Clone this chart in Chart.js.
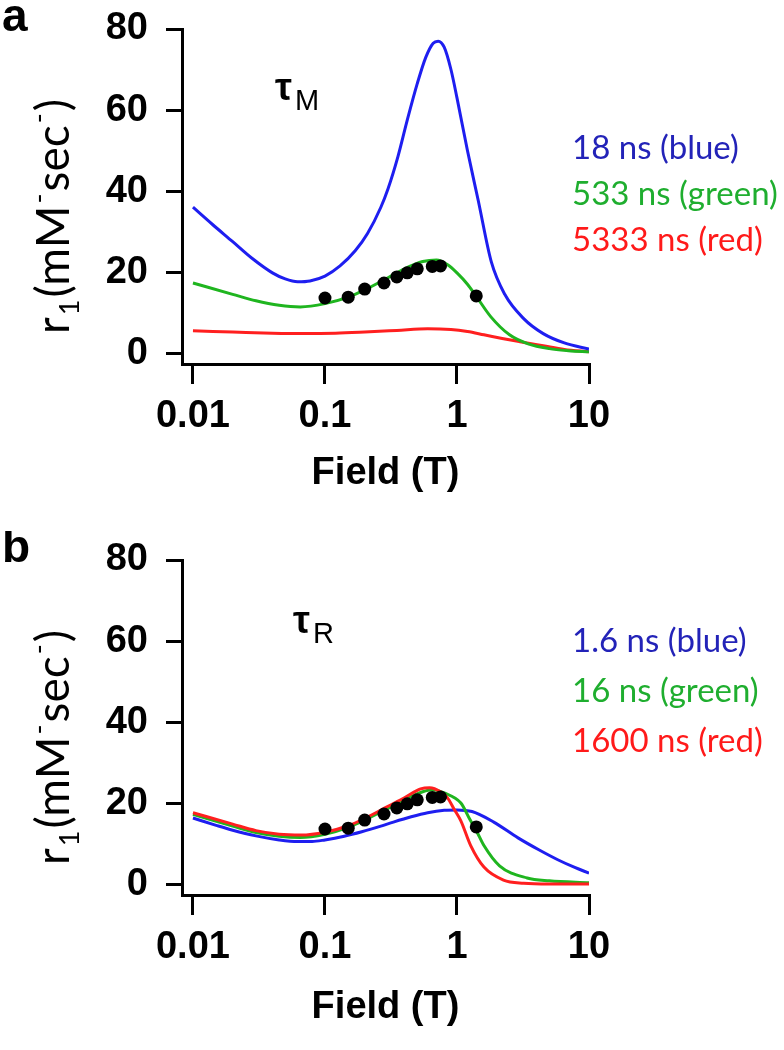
<!DOCTYPE html>
<html>
<head>
<meta charset="utf-8">
<script src="https://cdn.jsdelivr.net/npm/chart.js@4.4.1/dist/chart.umd.min.js"></script>
<style>
  body { margin: 0; background: #fff; width: 784px; height: 1050px; overflow: hidden; position: relative; }
  .panel { position: absolute; left: 0; width: 784px; }
  #panelA { top: 0; height: 525px; }
  #panelB { top: 531px; height: 519px; }
</style>
</head>
<body>
<div class="panel" id="panelA"><canvas id="chartA"></canvas></div>
<div class="panel" id="panelB"><canvas id="chartB"></canvas></div>
<script>
// axis ticks
const xTicks = [0.01, 0.1, 1, 10];
const yTicks = [0, 20, 40, 60, 80];

// measured r1 (black dots), same in both panels
const dotField = [0.1, 0.15, 0.2, 0.28, 0.35, 0.42, 0.5, 0.65, 0.75, 1.4];
const dotR1 = [13.6, 13.8, 15.8, 17.3, 18.8, 19.8, 20.8, 21.4, 21.5, 14.1];

// panel a : tau M
const aBlueField = [0.01, 0.014, 0.02, 0.028, 0.04, 0.05, 0.062, 0.077, 0.1, 0.13, 0.17, 0.21, 0.265, 0.3, 0.357, 0.42, 0.5, 0.58, 0.66, 0.72, 0.8, 0.9, 1.0, 1.2, 1.45, 1.82, 2.3, 3.2, 4.5, 6.5, 10];
const aBlueR1 = [36, 31.8, 27.5, 23.4, 19.8, 18.3, 17.6, 17.8, 19.0, 21.5, 25.3, 29.5, 36, 40.5, 48.5, 57.5, 66.5, 73, 76.5, 77, 75.5, 70, 63, 50, 37.6, 22.5, 14.5, 8.5, 4.8, 2.5, 1];
const aGreenField = [0.01, 0.02, 0.03, 0.045, 0.065, 0.1, 0.15, 0.2, 0.3, 0.4, 0.55, 0.7, 0.85, 1.0, 1.2, 1.4, 1.8, 2.5, 3.5, 5, 7, 10];
const aGreenR1 = [17.3, 14.5, 12.9, 11.8, 11.4, 12.2, 13.8, 15.6, 18.6, 20.8, 22.6, 23, 21.8, 19.8, 17, 14, 9, 4.5, 2.2, 1.1, 0.6, 0.3];
const aRedField = [0.01, 0.02, 0.04, 0.07, 0.12, 0.2, 0.35, 0.6, 0.9, 1.2, 1.6, 2.2, 3, 4.5, 6.5, 10];
const aRedR1 = [5.5, 5.2, 4.9, 4.8, 4.9, 5.2, 5.6, 6, 5.8, 5.3, 4.5, 3.6, 2.8, 1.8, 0.9, 0.3];
const aLegend = ['18 ns (blue)', '533 ns (green)', '5333 ns (red)'];

// panel b : tau R
const bBlueField = [0.01, 0.015, 0.02, 0.03, 0.045, 0.062, 0.08, 0.1, 0.14, 0.19, 0.265, 0.33, 0.45, 0.6, 0.8, 1.0, 1.3, 1.9, 2.9, 4.2, 5.8, 7.8, 10];
const bBlueR1 = [16.3, 14.5, 13.3, 11.9, 10.9, 10.5, 10.5, 10.9, 11.8, 12.9, 14.3, 15.3, 16.6, 17.6, 18.2, 18.3, 17.9, 15.3, 11.4, 8.4, 6, 4.1, 2.7];
const bGreenField = [0.01, 0.02, 0.03, 0.045, 0.065, 0.1, 0.15, 0.2, 0.3, 0.4, 0.55, 0.65, 0.8, 1.07, 1.25, 1.43, 1.6, 2.1, 3.4, 5, 10];
const bGreenR1 = [17.2, 14.3, 12.7, 11.8, 11.5, 12.3, 14, 15.8, 18.7, 20.8, 22.8, 23.3, 22.5, 20, 16, 12.6, 9.5, 4.5, 1.5, 0.8, 0.3];
const bRedField = [0.01, 0.02, 0.03, 0.045, 0.066, 0.1, 0.15, 0.2, 0.3, 0.4, 0.53, 0.62, 0.75, 0.85, 0.95, 1.07, 1.27, 1.6, 2.25, 3.2, 5, 10];
const bRedR1 = [17.6, 14.8, 13.2, 12.3, 12.1, 12.8, 14.4, 16.2, 19.2, 21.3, 23.5, 23.8, 22.8, 21.2, 18.5, 15.6, 9.5, 4.2, 1, 0.2, 0, 0];
const bLegend = ['1.6 ns (blue)', '16 ns (green)', '1600 ns (red)'];

const lineColors = ['#1e1ef0', '#1fb51f', '#ff1f1f'];
const textColors = ['#2323b8', '#1fae2f', '#ff1a1a'];

const pts = (xs, ys) => xs.map((x, i) => ({ x: x, y: ys[i] }));

const overlay = {
  id: 'overlay',
  afterDraw(chart, args, o) {
    const ctx = chart.ctx;
    ctx.save();
    ctx.textAlign = 'left';
    ctx.textBaseline = 'alphabetic';
    ctx.fillStyle = '#000';
    // panel letter
    ctx.font = 'bold 46px "Liberation Sans", Arial, sans-serif';
    ctx.fillText(o.letter, 2, o.letterY);
    // tau label
    ctx.font = 'bold 38px "Liberation Sans", Arial, sans-serif';
    ctx.fillText('τ', o.tauX, o.tauY);
    const tw = ctx.measureText('τ').width;
    ctx.font = '29px "Liberation Sans", Arial, sans-serif';
    ctx.fillText(o.tauSub, o.tauX + tw + 3, o.tauY + 10);
    // legend text
    ctx.font = '33px Lato, "Open Sans", sans-serif';
    o.legend.forEach((t, i) => {
      ctx.fillStyle = textColors[i];
      ctx.fillText(t, 572, o.legendY[i]);
    });
    // y axis title, rotated
    ctx.fillStyle = '#000';
    ctx.translate(69, o.titleBottom);
    ctx.rotate(-Math.PI / 2);
    const parts = [
      ['r', 46, 0], ['1', 27, 10], ['(mM', 46, 0], ['-', 27, -21],
      ['sec', 46, 0], ['-', 27, -21], [')', 46, 0]
    ];
    let px = 0;
    parts.forEach(p => {
      ctx.font = p[1] + 'px Lato, "Open Sans", sans-serif';
      ctx.fillText(p[0], px, p[2]);
      px += ctx.measureText(p[0]).width + 2;
    });
    ctx.restore();
  }
};

function makeChart(id, series, o) {
  const tickFont = { family: '"Liberation Sans", Arial, sans-serif', size: 38, weight: 'bold' };
  return new Chart(document.getElementById(id), {
    type: 'line',
    data: {
      datasets: [
        { data: pts(dotField, dotR1), showLine: false, pointRadius: 6.5, pointBackgroundColor: '#000', pointBorderWidth: 0, order: 0 },
        { data: pts(series[2][0], series[2][1]), borderColor: lineColors[2], order: o.redOrder },
        { data: pts(series[1][0], series[1][1]), borderColor: lineColors[1], order: 2 },
        { data: pts(series[0][0], series[0][1]), borderColor: lineColors[0], order: o.blueOrder }
      ]
    },
    options: {
      responsive: true,
      maintainAspectRatio: false,
      animation: false,
      events: [],
      layout: { padding: { top: 29, right: 195, left: 0, bottom: 0 } },
      elements: {
        line: { borderWidth: 3, cubicInterpolationMode: 'monotone', fill: false },
        point: { radius: 0 }
      },
      plugins: { legend: { display: false }, tooltip: { enabled: false }, overlay: o },
      scales: {
        x: {
          type: 'logarithmic',
          min: 0.00826,
          max: 10,
          afterBuildTicks: s => { s.ticks = xTicks.map(v => ({ value: v })); },
          afterFit: s => { s.height = s.chart.height - 364; s.paddingLeft = 0; s.paddingRight = 0; },
          grid: { drawOnChartArea: false, tickLength: 20, tickWidth: 3, color: '#000', lineWidth: 3 },
          border: { color: '#000', width: 3 },
          ticks: { color: '#000', font: tickFont, padding: 10, autoSkip: false, maxRotation: 0, callback: v => String(v) },
          title: { display: true, text: 'Field (T)', color: '#000', font: tickFont, padding: { top: 0, bottom: o.fieldPad } }
        },
        y: {
          min: -2.7,
          max: 80,
          afterBuildTicks: s => { s.ticks = yTicks.map(v => ({ value: v })); },
          afterFit: s => { s.width = 182; s.paddingTop = 0; s.paddingBottom = 0; },
          grid: { drawOnChartArea: false, tickLength: 16, tickWidth: 3, color: '#000', lineWidth: 3 },
          border: { color: '#000', width: 3 },
          ticks: { color: '#000', font: tickFont, padding: 18 }
        }
      }
    },
    plugins: [overlay]
  });
}

makeChart('chartA', [[aBlueField, aBlueR1], [aGreenField, aGreenR1], [aRedField, aRedR1]], {
  letter: 'a', letterY: 31, tauX: 275, tauY: 100, tauSub: 'M',
  legend: aLegend, legendY: [159, 205, 251], titleBottom: 334, fieldPad: 29,
  blueOrder: 1, redOrder: 3
});
makeChart('chartB', [[bBlueField, bBlueR1], [bGreenField, bGreenR1], [bRedField, bRedR1]], {
  letter: 'b', letterY: 31, tauX: 293, tauY: 102, tauSub: 'R',
  legend: bLegend, legendY: [121, 171, 221], titleBottom: 334, fieldPad: 20,
  blueOrder: 3, redOrder: 1
});
</script>
</body>
</html>
